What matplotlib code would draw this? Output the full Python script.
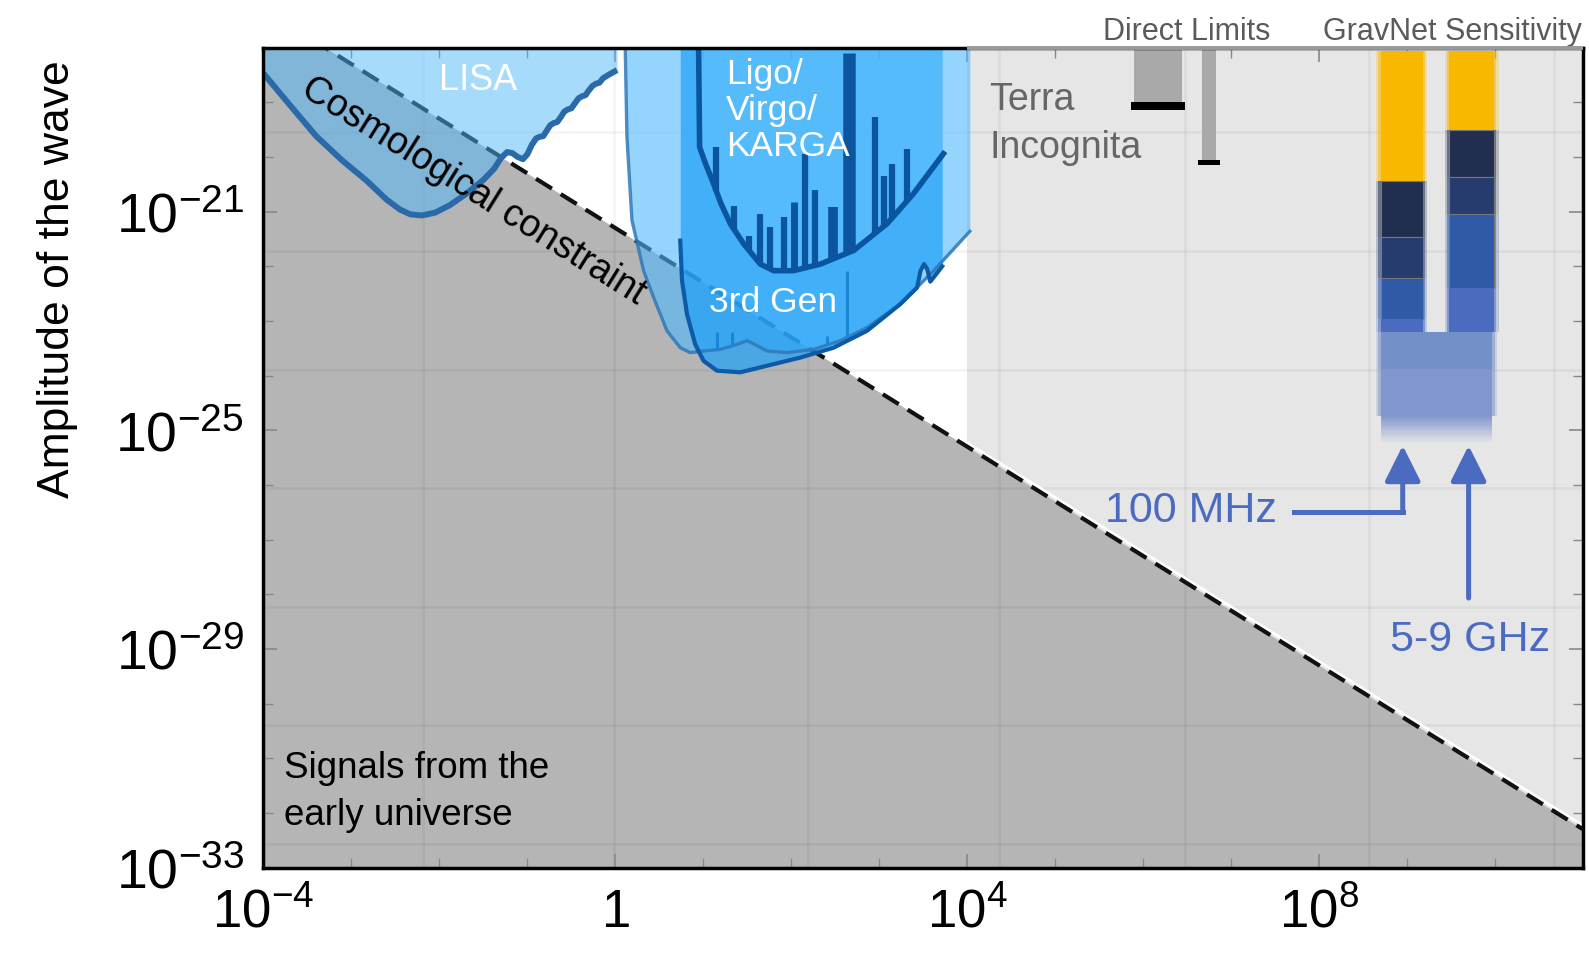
import numpy as np
import matplotlib
matplotlib.use('Agg')
import matplotlib.pyplot as plt
from matplotlib.ticker import FixedLocator, FixedFormatter, NullFormatter

plt.rcParams['font.family'] = ['Liberation Sans', 'DejaVu Sans']
plt.rcParams['mathtext.fontset'] = 'custom'
plt.rcParams['mathtext.rm'] = 'Liberation Sans'
plt.rcParams['mathtext.it'] = 'Liberation Sans:italic'
plt.rcParams['mathtext.bf'] = 'Liberation Sans:bold'

# ---------------- data (log10 f [Hz], log10 h) ----------------
xlim_log = [-4, 11]
ylim_log = [-33, -18]
xtick_logf = [-4, 0, 4, 8]
xtick_labels = [r'$10^{-4}$', r'$1$', r'$10^{4}$', r'$10^{8}$']
ytick_logh = [-33, -29, -25, -21]
ytick_labels = [r'$10^{-33}$', r'$10^{-29}$', r'$10^{-25}$', r'$10^{-21}$']

# cosmological constraint h ~ 1/f
cosmo_logf = [-4.0, 11.0]
cosmo_logh = [-17.3, -32.3]
terra_start_logf = 4.0

# LISA sensitivity
lisa_logf = [-4.0, -3.7, -3.4, -3.1, -2.83, -2.6, -2.45, -2.33, -2.2, -2.05, -1.88, -1.7,
             -1.5, -1.38, -1.30, -1.23, -1.17, -1.11, -1.05, -1.00, -0.95, -0.90, -0.86,
             -0.82, -0.78, -0.74, -0.70, -0.66, -0.62, -0.58, -0.54, -0.50, -0.46, -0.42,
             -0.38, -0.34, -0.30, -0.26, -0.22, -0.18, -0.14, -0.08, 0.02]
lisa_logh = [-18.47, -19.05, -19.62, -20.07, -20.43, -20.78, -20.96, -21.05, -21.07, -21.02,
             -20.88, -20.68, -20.42, -20.22, -20.02, -19.91, -19.93, -20.00, -20.04, -19.95,
             -19.78, -19.66, -19.63, -19.62, -19.52, -19.42, -19.38, -19.36, -19.27, -19.17,
             -19.13, -19.11, -19.02, -18.93, -18.89, -18.87, -18.78, -18.70, -18.66, -18.64,
             -18.56, -18.50, -18.41]

# 3rd generation (outer envelope)
gen3_logf = [0.113, 0.132, 0.189, 0.321, 0.435, 0.587, 0.738, 0.852, 1.003, 1.193, 1.383,
             1.497, 1.61, 1.725, 1.952, 2.255, 2.559, 2.862, 3.241, 3.62, 4.03]
gen3_logh = [-18.04, -19.63, -21.16, -22.08, -22.57, -23.18, -23.49, -23.58, -23.55, -23.52,
             -23.43, -23.36, -23.45, -23.55, -23.58, -23.52, -23.36, -23.12, -22.69, -22.08, -21.36]
gen3_spike_logf = [1.156, 1.327, 2.407, 2.635]
gen3_spike_logh = [-23.21, -23.21, -23.27, -22.08]

# advanced detector design curve
adv_logf = [0.738, 0.758, 0.815, 0.909, 1.003, 1.156, 1.42, 1.725, 2.104, 2.48, 2.862,
            3.241, 3.43, 3.47, 3.51, 3.545, 3.58, 3.62, 3.716]
adv_logh = [-21.53, -22.26, -22.88, -23.43, -23.73, -23.91, -23.94, -23.82, -23.67, -23.49,
            -23.18, -22.69, -22.39, -22.08, -21.96, -22.05, -22.28, -22.20, -22.00]

# Ligo / Virgo / KAGRA measured curve
ligo_logf = [0.947, 0.958, 1.02, 1.117, 1.2, 1.307, 1.459, 1.648, 1.80, 2.027, 2.331,
             2.71, 3.09, 3.39, 3.73]
ligo_logh = [-18.07, -19.82, -20.10, -20.49, -20.85, -21.22, -21.59, -21.96, -22.08, -22.08,
             -21.96, -21.71, -21.22, -20.67, -19.94]
ligo_spike_logf = [1.148, 1.353, 1.516, 1.641, 1.755, 1.914, 2.027, 2.16, 2.274, 2.48,
                   2.653, 2.957, 3.05, 3.146, 3.317]
ligo_spike_logh = [-19.82, -20.89, -21.44, -21.04, -21.28, -21.10, -20.83, -19.94, -20.61,
                   -20.92, -18.10, -19.27, -20.34, -20.12, -19.85]
ligo_spike_lw = [4.5, 4.5, 4.5, 4.5, 4.5, 4.5, 5, 4.5, 4.5, 7, 9, 4.5, 4.5, 4.5, 4.5]

# Direct limits
direct_lo_logf = [5.895, 6.666]
direct_hi_logf = [6.438, 6.825]
direct_cap_lo_logf = [5.858, 6.62]
direct_cap_hi_logf = [6.472, 6.87]
direct_limit_logh = [-18.99, -20.06]
direct_cap_bottom_logh = [-19.14, -20.15]

# GravNet sensitivity columns
gn_left_logf = [8.70, 9.18]
gn_right_logf = [9.48, 9.99]
gn_left_bounds = [-18.07, -20.44, -21.47, -22.21, -22.97, -23.21]
gn_right_bounds = [-18.07, -19.51, -20.37, -21.05, -22.40, -23.21]
gn_colors = ['#f8b800', '#222e50', '#263c6e', '#2f5aa8', '#4b6bbf']
gn_base_logf = [8.70, 9.97]
gn_base_bounds = [-23.21, -23.88, -24.73]
gn_base_colors = ['#7490c9', '#8096cc']
gn_fade_end_logh = -25.23

# arrows
arrow_logf = [8.951, 9.70]
arrow_tip_logh = -25.28
arrow_tail_logh = [-26.50, -28.07]
mhz_shaft_start_logf = 7.72

grid_logf = [-2.19, -0.02, 2.19, 4.36, 6.48, 8.57, 10.67]
grid_logh = [-19.55, -21.72, -23.89, -26.06, -28.23, -30.40, -32.57]

# ---------------- helpers ----------------
def P(a):
    return 10.0 ** np.asarray(a, dtype=float)

top = P(ylim_log[1])
bot = P(ylim_log[0])

fig = plt.figure(figsize=(15.89, 9.54), dpi=100)
ax = fig.add_axes([0.1658, 0.0896, 0.8304, 0.8594])
ax.set_xscale('log')
ax.set_yscale('log')
ax.set_xlim(P(xlim_log[0]), P(xlim_log[1]))
ax.set_ylim(bot, top)
ax.set_facecolor('white')

BLUE = (79 / 255, 184 / 255, 251 / 255)

# backgrounds
ax.axvspan(P(terra_start_logf), P(xlim_log[1]), color='#e6e6e6', lw=0, zorder=0.5)
ax.fill_between(P(cosmo_logf), bot, P(cosmo_logh), color='#b5b5b5', lw=0, zorder=1)

for g in grid_logf:
    ax.axvline(P(g), color='k', alpha=0.04, lw=2.2, zorder=1.2)
for g in grid_logh:
    ax.axhline(P(g), color='k', alpha=0.04, lw=2.2, zorder=1.2)

# white highlight along constraint in terra incognita
hl_f = np.array([terra_start_logf, xlim_log[1]])
hl_h = np.interp(hl_f, cosmo_logf, cosmo_logh) + 0.07
ax.plot(P(hl_f), P(hl_h), color='white', lw=2.0, zorder=1.8, solid_capstyle='butt')

ax.plot(P(cosmo_logf), P(cosmo_logh), color='#111111', lw=3, dashes=(4.5, 2.5), zorder=2)

# LISA
ax.fill_between(P(lisa_logf), P(lisa_logh), top, color=BLUE, alpha=0.5, lw=0, zorder=3)
ax.plot(P(lisa_logf), P(lisa_logh), color='#2a6aa8', lw=4.3, zorder=4,
        solid_capstyle='butt', solid_joinstyle='round')

# Ground based detectors
ax.fill_between(P(gen3_logf), P(gen3_logh), top, color=BLUE, alpha=0.6, lw=0, zorder=3)
ax.fill_between(P(adv_logf), P(adv_logh), top, color=(30 / 255, 161 / 255, 249 / 255),
                alpha=0.7, lw=0, zorder=3.1)
ax.fill_between(P(ligo_logf), P(ligo_logh), top, color=(150 / 255, 220 / 255, 1.0),
                alpha=0.25, lw=0, zorder=3.2)

ax.plot(P(gen3_logf), P(gen3_logh), color='#2f78b8', alpha=0.85, lw=2.4, zorder=4)
g3_base = np.interp(gen3_spike_logf, gen3_logf, gen3_logh)
ax.vlines(P(gen3_spike_logf), P(g3_base), P(gen3_spike_logh), color='#1a86d6', lw=2.2, zorder=4)

ax.plot(P(adv_logf), P(adv_logh), color='#0d5ba6', lw=3.0, zorder=4.1)

ax.plot(P(ligo_logf), P(ligo_logh), color='#0b55a0', lw=4.0, zorder=4.2,
        solid_joinstyle='round')
lg_base = np.interp(ligo_spike_logf, ligo_logf, ligo_logh)
for f, b, t, w in zip(ligo_spike_logf, lg_base, ligo_spike_logh, ligo_spike_lw):
    ax.plot([P(f), P(f)], [P(b), P(t)], color='#0b55a0', lw=w, zorder=4.2,
            solid_capstyle='butt')

# Direct limits
for lo, hi, clo, chi, lim, cb in zip(direct_lo_logf, direct_hi_logf, direct_cap_lo_logf,
                                     direct_cap_hi_logf, direct_limit_logh,
                                     direct_cap_bottom_logh):
    ax.fill([P(lo), P(hi), P(hi), P(lo)], [P(lim), P(lim), top, top],
            color='#a9a9a9', lw=0, zorder=5)
    ax.fill([P(clo), P(chi), P(chi), P(clo)], [P(cb), P(cb), P(lim), P(lim)],
            color='black', lw=0, zorder=5.1)

# GravNet columns
def soft_rect(x0, x1, y0, y1, color, z, edge=False):
    for d, a in [(0.05, 0.25), (0.025, 0.5)]:
        ax.fill([P(x0 - d), P(x1 + d), P(x1 + d), P(x0 - d)],
                [P(y0), P(y0), P(y1), P(y1)], color=color, alpha=a, lw=0, zorder=z)
    ax.fill([P(x0), P(x1), P(x1), P(x0)], [P(y0), P(y0), P(y1), P(y1)],
            facecolor=color, edgecolor=('#777777' if edge else 'none'),
            lw=(0.8 if edge else 0), zorder=z + 0.01)

for xs, bounds in [(gn_left_logf, gn_left_bounds), (gn_right_logf, gn_right_bounds)]:
    for i, c in enumerate(gn_colors):
        soft_rect(xs[0], xs[1], bounds[i + 1], bounds[i], c, 5, edge=(i in (1, 2, 3)))

for i, c in enumerate(gn_base_colors):
    soft_rect(gn_base_logf[0], gn_base_logf[1], gn_base_bounds[i + 1], gn_base_bounds[i], c, 5.2)
nfade = 12
fade_edges = np.linspace(gn_base_bounds[-1], gn_fade_end_logh, nfade + 1)
for k in range(nfade):
    a = 1.0 - (k + 0.5) / nfade
    ax.fill([P(gn_base_logf[0]), P(gn_base_logf[1]), P(gn_base_logf[1]), P(gn_base_logf[0])],
            [P(fade_edges[k + 1]), P(fade_edges[k + 1]), P(fade_edges[k]), P(fade_edges[k])],
            color=gn_base_colors[-1], alpha=a, lw=0, zorder=5.2)

# arrows
ACOL = '#4a6bbf'
ax.plot([P(mhz_shaft_start_logf), P(arrow_logf[0])], [P(arrow_tail_logh[0])] * 2,
        color=ACOL, lw=3.6, zorder=6, solid_capstyle='projecting')
for f, tail in zip(arrow_logf, arrow_tail_logh):
    ax.annotate('', xy=(P(f), P(arrow_tip_logh)), xytext=(P(f), P(tail)),
                arrowprops=dict(arrowstyle='-|>,head_length=1.1,head_width=0.55',
                                color=ACOL, lw=3.6, shrinkA=0, shrinkB=0,
                                mutation_scale=20), zorder=6)

# texts
ax.text(P(-1.556), P(-18.59), 'LISA', color='white', fontsize=26, ha='center', va='center', zorder=7)
ax.text(P(1.257), P(-19.13), 'Ligo/\nVirgo/\nKARGA', color='white', fontsize=25.5,
        ha='left', va='center', linespacing=1.12, zorder=7)
ax.text(P(1.787), P(-22.64), '3rd Gen', color='white', fontsize=25.5, ha='center', va='center', zorder=7)
ax.text(P(-1.613), P(-20.60), 'Cosmological constraint', color='black', fontsize=27,
        ha='center', va='center', rotation=-32, rotation_mode='anchor', zorder=7)
ax.text(P(4.254), P(-19.38), 'Terra\nIncognita', color='#666666', fontsize=27,
        ha='left', va='center', linespacing=1.42, zorder=7)
ax.text(P(6.49), P(-17.69), 'Direct Limits', color='#5a5a5a', fontsize=22,
        ha='center', va='center', clip_on=False, zorder=7)
ax.text(P(9.52), P(-17.69), 'GravNet Sensitivity', color='#5a5a5a', fontsize=22,
        ha='center', va='center', clip_on=False, zorder=7)
ax.text(P(-3.77), P(-31.6), 'Signals from the\nearly universe', color='black', fontsize=26.5,
        ha='left', va='center', linespacing=1.42, zorder=7)
ax.text(P(7.52), P(-26.46), '100 MHz', color=ACOL, fontsize=31, ha='right', va='center', zorder=7)
ax.text(P(9.72), P(-28.81), '5-9 GHz', color=ACOL, fontsize=31, ha='center', va='center', zorder=7)

fig.text(0.0364, 0.7079, 'Amplitude of the wave', rotation=90, ha='center', va='center',
         fontsize=32, color='black')

# ticks
ax.xaxis.set_major_locator(FixedLocator(P(xtick_logf)))
ax.xaxis.set_major_formatter(FixedFormatter(xtick_labels))
ax.yaxis.set_major_locator(FixedLocator(P(ytick_logh)))
ax.yaxis.set_major_formatter(FixedFormatter(ytick_labels))
ax.xaxis.set_minor_locator(FixedLocator(P(np.arange(xlim_log[0], xlim_log[1] + 1))))
ax.yaxis.set_minor_locator(FixedLocator(P(np.arange(ylim_log[0], ylim_log[1] + 1))))
ax.xaxis.set_minor_formatter(NullFormatter())
ax.yaxis.set_minor_formatter(NullFormatter())
ax.tick_params(which='both', direction='in', top=True, right=True, color='#888888')
ax.tick_params(which='major', length=10, width=1.2, pad=14)
ax.tick_params(axis='y', which='major', labelsize=40)
ax.tick_params(axis='x', which='major', labelsize=38)
ax.tick_params(which='minor', length=7, width=1.0)

for s in ax.spines.values():
    s.set_linewidth(2.5)
    s.set_color('black')
    s.set_zorder(8)

# grey top border over the terra incognita part
ax.plot([P(terra_start_logf), P(xlim_log[1])], [top, top], color='#9a9a9a', lw=2.8,
        zorder=9, clip_on=False, solid_capstyle='butt')

fig.savefig('out.png', dpi=100)
